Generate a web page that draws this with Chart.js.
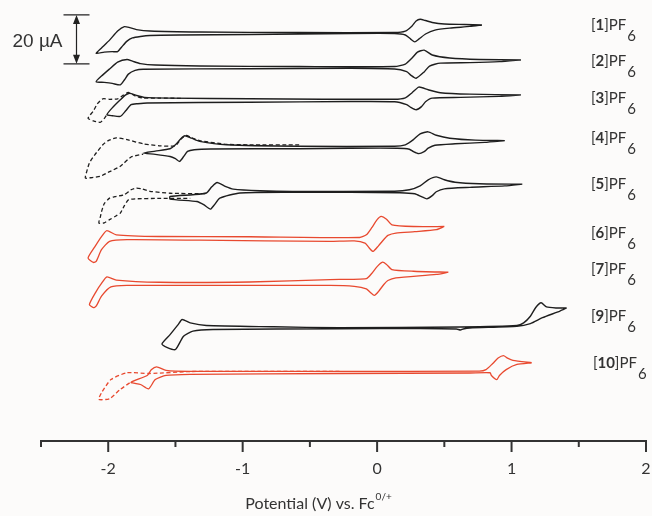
<!DOCTYPE html>
<html lang="en">
<head>
<meta charset="UTF-8">
<title>Cyclic voltammograms</title>
<style>
  html, body { margin: 0; padding: 0; background: #fcfbfa; }
  #wrap { width: 652px; height: 516px; }
</style>
<script src="https://cdn.jsdelivr.net/npm/chart.js"></script>
</head>
<body>
<div id="wrap"><canvas id="cv" width="652" height="516"></canvas></div>
<script>
// [potential (V vs Fc), current (uA, relative to the trace baseline)]
const cv1 = [[0.78, 3.3], [0.69, 2.7], [0.54, 2.0], [0.43, 1.2], [0.36, -0.4], [0.31, -2.5], [0.28, -3.6], [0.25, -2.5], [0.21, -0.8], [0.13, -0.2], [-0.20, -0.2], [-0.95, -0.6], [-1.47, -0.8], [-1.69, -1.0], [-1.76, -1.4], [-1.82, -2.0], [-1.86, -3.3], [-1.90, -5.7], [-1.93, -7.6], [-1.97, -7.6], [-2.03, -7.8], [-2.09, -8.3], [-2.05, -6.1], [-1.99, -2.9], [-1.93, 0.8], [-1.88, 2.6], [-1.84, 2.2], [-1.79, 1.4], [-1.69, 0.8], [-1.32, 0.4], [-0.58, 0.2], [0.13, 0.2], [0.21, 0.8], [0.26, 2.9], [0.29, 4.9], [0.32, 5.6], [0.36, 5.1], [0.41, 4.3], [0.50, 3.7], [0.65, 3.5], [0.78, 3.3]];
const cv2 = [[1.07, 2.9], [0.91, 2.2], [0.69, 1.8], [0.47, 1.6], [0.39, 0.4], [0.35, -2.0], [0.29, -4.6], [0.25, -3.3], [0.22, -1.9], [0.13, -0.8], [-0.20, -0.5], [-0.95, -0.7], [-1.74, -0.9], [-1.80, -1.4], [-1.85, -2.9], [-1.88, -5.3], [-1.91, -7.3], [-1.97, -6.7], [-2.03, -6.3], [-2.09, -6.0], [-2.05, -3.7], [-1.99, -0.8], [-1.93, 2.0], [-1.86, 3.1], [-1.82, 2.4], [-1.76, 1.4], [-1.65, 0.8], [-1.32, 0.4], [-0.58, 0.2], [0.13, 0.2], [0.21, 1.2], [0.26, 3.7], [0.30, 6.1], [0.35, 6.9], [0.41, 4.9], [0.54, 3.7], [0.76, 3.1], [1.07, 2.9]];
const cv3 = [[1.07, 2.4], [0.91, 1.8], [0.62, 1.4], [0.41, 1.1], [0.36, -0.4], [0.33, -2.4], [0.29, -3.7], [0.25, -2.7], [0.22, -1.6], [0.13, -0.4], [-0.20, -0.3], [-0.95, -0.6], [-1.71, -0.9], [-1.78, -1.2], [-1.83, -1.6], [-1.87, -4.1], [-1.91, -6.4], [-1.97, -6.1], [-2.01, -5.7], [-1.97, -2.9], [-1.91, 0.4], [-1.87, 2.4], [-1.84, 3.1], [-1.79, 2.2], [-1.73, 1.4], [-1.54, 1.1], [-0.95, 0.8], [0.13, 0.6], [0.21, 1.2], [0.26, 3.3], [0.31, 5.6], [0.38, 4.5], [0.47, 3.3], [0.69, 2.7], [1.07, 2.4]];
const cv3dash = [[-1.46, 1.0], [-1.62, 1.1], [-1.74, 1.1], [-1.80, 2.0], [-1.85, 3.4], [-1.89, 2.2], [-1.93, 0.8], [-1.99, 0.6], [-2.04, 0.8], [-2.08, -1.2], [-2.11, -4.1], [-2.15, -7.1], [-2.11, -8.2], [-2.06, -8.8], [-2.03, -7.3], [-2.01, -5.7]];
const cv4 = [[0.95, 2.9], [0.80, 2.2], [0.58, 1.6], [0.43, 1.0], [0.38, -0.2], [0.35, -1.6], [0.31, -2.4], [0.27, -1.6], [0.24, -0.6], [0.15, -0.2], [-0.20, -0.2], [-0.58, -0.4], [-1.24, -0.5], [-1.36, -0.8], [-1.41, -1.5], [-1.44, -3.7], [-1.47, -5.6], [-1.50, -4.5], [-1.54, -3.6], [-1.65, -2.7], [-1.74, -2.2], [-1.65, -1.4], [-1.54, -0.4], [-1.50, 1.2], [-1.46, 3.7], [-1.43, 4.9], [-1.38, 3.9], [-1.32, 2.6], [-1.12, 1.2], [-0.58, 0.6], [0.13, 0.6], [0.21, 1.2], [0.27, 3.3], [0.32, 5.7], [0.38, 6.5], [0.44, 5.1], [0.54, 3.9], [0.73, 3.1], [0.95, 2.9]];
const cv4dash = [[-0.58, 1.2], [-0.95, 1.2], [-1.12, 1.4], [-1.32, 2.9], [-1.38, 4.1], [-1.42, 5.0], [-1.46, 3.5], [-1.50, 0.8], [-1.62, 0.8], [-1.74, 1.6], [-1.86, 3.3], [-1.94, 4.0], [-2.00, 2.9], [-2.04, 1.2], [-2.10, -2.9], [-2.14, -6.2], [-2.16, -9.8], [-2.17, -12.4], [-2.12, -12.2], [-2.06, -11.7], [-1.99, -9.8], [-1.91, -7.6], [-1.83, -3.8], [-1.74, -2.6]];
const cv5 = [[1.08, 3.1], [0.95, 2.4], [0.69, 1.8], [0.50, 1.2], [0.44, 0.0], [0.41, -1.6], [0.37, -2.9], [0.33, -2.0], [0.28, -0.8], [0.17, -0.4], [-0.20, -0.2], [-0.63, -0.2], [-1.02, -0.5], [-1.17, -2.6], [-1.21, -5.3], [-1.24, -7.1], [-1.29, -5.3], [-1.34, -4.0], [-1.54, -3.0], [-1.54, -1.9], [-1.37, -1.2], [-1.27, -0.5], [-1.23, 2.0], [-1.19, 3.8], [-1.13, 2.2], [-1.07, 1.1], [-0.87, 0.4], [-0.63, 0.1], [0.13, 0.2], [0.24, 0.8], [0.32, 2.4], [0.38, 4.9], [0.44, 6.1], [0.50, 4.9], [0.58, 3.9], [0.76, 3.3], [1.08, 3.1]];
const cv5dash = [[-1.28, -0.8], [-1.54, -0.6], [-1.69, 0.2], [-1.75, 1.2], [-1.79, 1.5], [-1.83, 0.8], [-1.88, -1.2], [-1.95, -2.0], [-1.99, -2.6], [-2.03, -4.9], [-2.05, -8.2], [-2.06, -10.6], [-2.07, -12.8], [-2.03, -12.7], [-1.99, -11.4], [-1.94, -9.8], [-1.91, -8.7], [-1.88, -5.7], [-1.85, -3.3], [-1.80, -2.9], [-1.62, -2.7], [-1.39, -2.7]];
const cv6 = [[0.50, 5.0], [0.44, 3.7], [0.28, 2.9], [0.14, 2.3], [0.08, 1.4], [0.06, 0.3], [0.01, -2.9], [-0.03, -5.2], [-0.06, -3.7], [-0.09, -1.8], [-0.17, -0.9], [-0.35, -1.1], [-1.32, -0.6], [-1.86, -0.4], [-1.99, -1.1], [-2.05, -4.5], [-2.09, -9.3], [-2.11, -9.7], [-2.15, -7.9], [-2.10, -3.3], [-2.05, 0.9], [-2.01, 3.3], [-1.94, 1.6], [-1.62, 0.9], [-0.95, 0.8], [-0.13, 0.5], [-0.08, 1.6], [-0.04, 4.5], [0.00, 7.8], [0.03, 9.1], [0.07, 8.0], [0.11, 5.7], [0.27, 5.0], [0.50, 5.0]];
const cv7 = [[0.53, 4.6], [0.44, 3.7], [0.14, 2.3], [0.08, 1.2], [0.05, -0.4], [0.01, -3.3], [-0.02, -4.9], [-0.05, -3.7], [-0.08, -2.2], [-0.17, -1.2], [-0.35, -0.8], [-1.32, -0.8], [-1.86, -0.8], [-1.98, -1.4], [-2.05, -5.2], [-2.09, -9.3], [-2.11, -9.9], [-2.14, -8.6], [-2.09, -3.3], [-2.05, 0.0], [-2.01, 2.7], [-1.94, 1.4], [-1.62, 0.5], [-0.95, 0.6], [-0.35, 1.6], [-0.08, 2.0], [-0.04, 4.1], [0.00, 6.9], [0.04, 8.7], [0.07, 7.8], [0.11, 5.7], [0.27, 5.0], [0.53, 4.6]];
const cv9 = [[1.41, 8.0], [1.36, 6.7], [1.23, 4.0], [1.14, 1.6], [1.04, 0.5], [0.69, -0.2], [0.64, -0.6], [0.62, -1.0], [0.59, -0.6], [0.32, -0.4], [-0.28, -0.5], [-1.22, -0.8], [-1.37, -1.5], [-1.44, -3.6], [-1.50, -9.0], [-1.56, -8.2], [-1.60, -6.7], [-1.54, -2.9], [-1.48, 1.2], [-1.45, 3.3], [-1.39, 1.9], [-1.27, 0.8], [-0.77, 0.3], [-0.28, -0.1], [0.62, 0.2], [1.04, 0.8], [1.09, 1.9], [1.14, 4.6], [1.18, 8.2], [1.22, 10.1], [1.26, 8.4], [1.33, 8.0], [1.41, 8.0]];
const cv10 = [[1.15, 3.8], [1.04, 3.1], [0.96, 1.0], [0.91, -1.4], [0.89, -3.1], [0.85, -1.4], [0.84, -0.3], [0.69, -0.4], [-0.28, -0.6], [-1.39, -1.0], [-1.57, -1.4], [-1.65, -3.1], [-1.70, -6.9], [-1.76, -5.1], [-1.83, -4.2], [-1.71, -1.4], [-1.68, 0.9], [-1.64, 2.1], [-1.57, 0.7], [-1.39, 0.3], [-0.28, 0.3], [0.76, 0.4], [0.81, 1.0], [0.86, 3.5], [0.90, 5.7], [0.94, 6.7], [0.97, 5.7], [1.01, 4.8], [1.15, 3.8]];
const cv10dash = [[-0.28, 0.3], [-0.95, 0.3], [-1.39, 0.2], [-1.69, -0.6], [-1.86, -0.3], [-1.98, -3.1], [-2.05, -8.5], [-2.07, -11.2], [-1.99, -10.9], [-1.91, -7.1], [-1.84, -4.4]];

const compounds = ['1', '2', '3', '4', '5', '6', '7', '9', '10'];
const solidScans = [cv1, cv2, cv3, cv4, cv5, cv6, cv7, cv9, cv10];
const dashedScans = [null, null, cv3dash, cv4dash, cv5dash, null, null, null, cv10dash];
// vertical stacking offset of each trace (uA)
const offsets = [166.8, 152.9, 139.1, 119.9, 101.9, 82.7, 64.4, 46.4, 28.2];
const isRed = [false, false, false, false, false, true, true, false, true];
const xTicks = [-2.5, -2, -1.5, -1, -0.5, 0, 0.5, 1, 1.5, 2];
const scaleBar = 20; // uA

const BLACK = '#1e1e1e';
const RED = '#e8492f';
const FONT = 'Lato, "Open Sans", sans-serif';

// label placement (uA on the stacked axis) and scale-bar position
const labelE = 1.59;
const labelY = [170.1, 155.1, 140.2, 124.0, 105.2, 85.1, 70.1, 51.0, 32.0];
const barE = -2.24, barTop = 174.2;

const datasets = [];
compounds.forEach((c, k) => {
  const col = isRed[k] ? RED : BLACK;
  if (dashedScans[k]) {
    datasets.push({
      data: dashedScans[k].map(([e, i]) => ({x: e, y: offsets[k] + i})),
      borderColor: col, borderWidth: 1.3, borderDash: [4, 2.5]
    });
  }
  datasets.push({
    data: solidScans[k].map(([e, i]) => ({x: e, y: offsets[k] + i})),
    borderColor: col, borderWidth: isRed[k] ? 1.3 : 1.4
  });
});

const extras = {
  id: 'extras',
  afterDraw(chart) {
    const ctx = chart.ctx;
    const xs = chart.scales.x, ys = chart.scales.y;
    const bottom = chart.chartArea.bottom;
    ctx.save();
    // tick marks and labels
    ctx.strokeStyle = '#333';
    ctx.fillStyle = '#333';
    ctx.lineWidth = 2;
    ctx.font = '16px ' + FONT;
    ctx.textAlign = 'center';
    ctx.textBaseline = 'middle';
    xTicks.forEach(v => {
      const px = xs.getPixelForValue(v);
      const major = Number.isInteger(v);
      ctx.beginPath();
      ctx.moveTo(px, bottom);
      ctx.lineTo(px, bottom + (major ? 11 : 6));
      ctx.stroke();
      if (major) ctx.fillText(String(v), px, bottom + 28);
    });

    // scale bar
    const bx = Math.round(xs.getPixelForValue(barE)) + 0.5;
    const y1 = ys.getPixelForValue(barTop);
    const y2 = ys.getPixelForValue(barTop - scaleBar);
    ctx.strokeStyle = '#222';
    ctx.fillStyle = '#222';
    ctx.lineWidth = 1.2;
    ctx.beginPath();
    ctx.moveTo(bx - 13, y1); ctx.lineTo(bx + 13, y1);
    ctx.moveTo(bx - 13, y2); ctx.lineTo(bx + 13, y2);
    ctx.moveTo(bx, y1 + 6); ctx.lineTo(bx, y2 - 6);
    ctx.stroke();
    ctx.beginPath();
    ctx.moveTo(bx, y1); ctx.lineTo(bx - 3.5, y1 + 9); ctx.lineTo(bx + 3.5, y1 + 9); ctx.closePath();
    ctx.moveTo(bx, y2); ctx.lineTo(bx - 3.5, y2 - 9); ctx.lineTo(bx + 3.5, y2 - 9); ctx.closePath();
    ctx.fill();
    ctx.fillStyle = '#333';
    ctx.font = '19px "Liberation Sans", Arial, sans-serif';
    ctx.textAlign = 'right';
    ctx.fillText('20 \u00b5A', bx - 14, (y1 + y2) / 2 + 2);

    // compound labels
    ctx.textAlign = 'left';
    compounds.forEach((c, k) => {
      let x = xs.getPixelForValue(labelE) + (c.length > 1 ? 2 : 0);
      const y = ys.getPixelForValue(labelY[k]);
      const parts = [['[', false], [c, true], [']PF', false]];
      parts.forEach(([t, bold]) => {
        ctx.font = (bold ? 'bold ' : '') + '15px ' + FONT;
        ctx.fillText(t, x, y);
        x += ctx.measureText(t).width;
      });
      ctx.font = '15px ' + FONT;
      ctx.fillText('6', x + 1, y + 11);
    });

    // axis title with superscript
    ctx.font = '16px ' + FONT;
    const main = 'Potential (V) vs. Fc';
    const w1 = ctx.measureText(main).width;
    ctx.font = '10px ' + FONT;
    const w2 = ctx.measureText('0/+').width;
    const tx = 318 - (w1 + w2) / 2;
    ctx.font = '16px ' + FONT;
    ctx.fillText(main, tx, 504);
    ctx.font = '10px ' + FONT;
    ctx.fillText('0/+', tx + w1 + 1, 497);
    ctx.restore();
  }
};

new Chart(document.getElementById('cv'), {
  type: 'scatter',
  data: {datasets},
  options: {
    responsive: false,
    animation: false,
    devicePixelRatio: 1,
    layout: {padding: {left: 41, right: 6, top: 0, bottom: 67}},
    elements: {
      point: {radius: 0, hoverRadius: 0},
      line: {tension: 0.2, fill: false}
    },
    datasets: {scatter: {showLine: true}},
    plugins: {legend: {display: false}, tooltip: {enabled: false}},
    scales: {
      x: {
        type: 'linear', min: -2.5, max: 2,
        grid: {display: false},
        border: {display: true, color: '#333', width: 2},
        ticks: {display: false, stepSize: 0.5}
      },
      y: {type: 'linear', min: 0, max: 180.3, display: false}
    }
  },
  plugins: [extras]
});
</script>
</body>
</html>
